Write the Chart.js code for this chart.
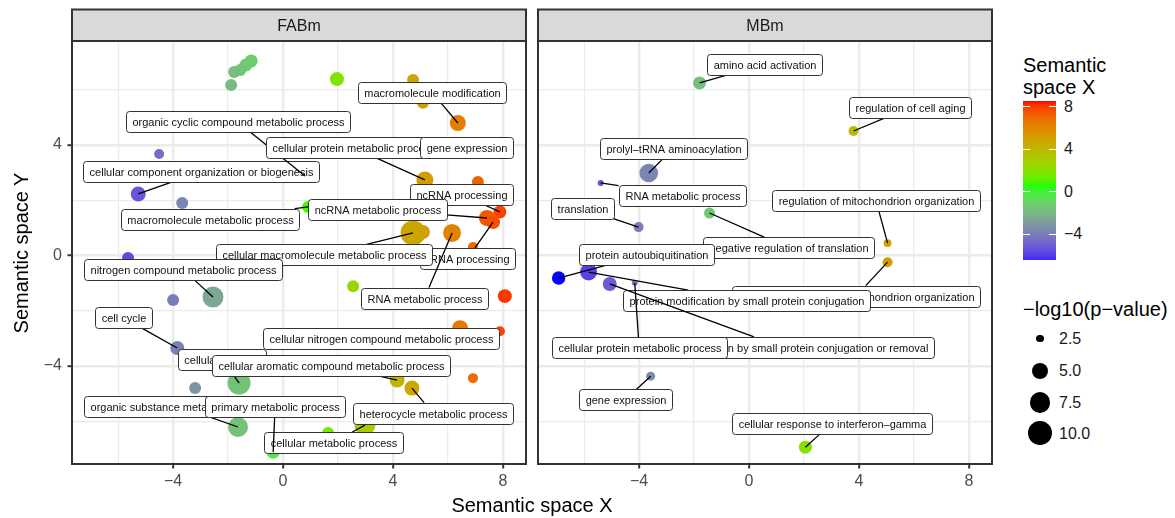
<!DOCTYPE html>
<html>
<head>
<meta charset="utf-8">
<script src="https://cdn.jsdelivr.net/npm/chart.js@4.4.1/dist/chart.umd.min.js"></script>
<style>
  html, body { margin: 0; padding: 0; background: #fff; }
  body { width: 1175px; height: 518px; position: relative; overflow: hidden;
         font-family: "Liberation Sans", Arial, Helvetica, sans-serif; color: #1a1a1a; }
  canvas { position: absolute; top: 0; }
  #cvA { left: 0; }
  #cvB { left: 532px; }
  .axis-title { position: absolute; font-size: 20px; line-height: 24px; height: 24px;
                white-space: nowrap; text-align: center; color: #000; }
  .leg-title { position: absolute; left: 1023px; font-size: 20px; line-height: 22px; color: #000; white-space: nowrap; }
  .leg-text { position: absolute; font-size: 16px; line-height: 16px; color: #1a1a1a; white-space: nowrap; }
  #colourBar { position: absolute; left: 1023px; top: 101px; width: 33px; height: 159px; }
  .bar-tick { position: absolute; height: 1px; width: 7px; background: #fff; }
  .size-key { position: absolute; background: #000; border-radius: 50%; }
</style>
</head>
<body>
<canvas id="cvA" width="532" height="518"></canvas>
<canvas id="cvB" width="468" height="518"></canvas>

<div class="axis-title" style="left:282px; top:492.8px; width:500px;">Semantic space X</div>
<div class="axis-title" style="left:-128.6px; top:240.5px; width:300px; transform:rotate(-90deg);">Semantic space Y</div>

<div class="leg-title" style="top:53.8px;">Semantic<br>space X</div>
<div id="colourBar"></div>
<div class="leg-title" style="top:297.8px;">&minus;log10(p&minus;value)</div>
<div id="legendItems"></div>

<script>
// ---------------- FABm ----------------
const fabmTerm = [
  '', '', '', '', '', '', '', '', '', '', '', '', '', '', '', '', '', '', '', '', '', '',
  'macromolecule modification',
  'cellular component organization or biogenesis',
  'organic cyclic compound metabolic process',
  'cellular protein metabolic process',
  'gene expression',
  'ncRNA processing',
  'ncRNA metabolic process',
  'macromolecule metabolic process',
  'rRNA processing',
  'cellular macromolecule metabolic process',
  'nitrogen compound metabolic process',
  'RNA metabolic process',
  'cell cycle',
  'cellular process',
  'cellular nitrogen compound metabolic process',
  'cellular aromatic compound metabolic process',
  'organic substance metabolic process',
  'cellular metabolic process',
  'primary metabolic process',
  'heterocycle metabolic process'
];
const fabmX = [
  -1.16, -1.35, -1.56, -1.78, -1.89, 1.96, 4.73, 5.09, -4.51, -3.67, 7.09, 5.09, 6.91,
  -5.64, -4.84, -4.00, 2.55, 8.07, 7.89, -3.20, 6.91, 1.64,
  6.36, -5.27, 0.80, 5.16, 6.65, 7.89, 7.42, 0.91, 7.64, 4.73, -2.55, 6.15,
  -3.85, -1.60, 6.44, 4.15, -1.64, 2.98, -0.36, 4.69
];
const fabmY = [
  7.05, 6.90, 6.72, 6.65, 6.18, 6.39, 6.36, 5.53, 3.68, 1.90, 2.66, 0.85, 0.31,
  -0.09, -0.71, -1.61, -1.11, -1.47, -2.74, -4.80, -4.44, -6.43,
  4.80, 2.23, 2.88, 2.74, 3.90, 1.58, 1.36, 1.76, 1.21, 0.82, -1.50, 0.82,
  -3.35, -4.62, -2.63, -4.51, -6.21, -6.14, -7.12, -4.80
];
const fabmLogP = [
  3.61, 3.61, 3.30, 3.30, 3.30, 3.96, 3.30, 3.30, 2.83, 3.30, 3.30, 3.96, 2.83,
  3.30, 2.83, 3.30, 3.30, 3.96, 2.83, 3.30, 2.83, 3.30,
  4.82, 4.37, 3.30, 5.31, 2.83, 3.61, 4.82, 3.30, 3.96, 10.99, 7.78, 5.86,
  3.96, 9.29, 4.82, 4.37, 7.09, 7.78, 3.61, 4.37
];
// label anchor centres (data units), null for unlabelled terms
const fabmLabelX = [
  null, null, null, null, null, null, null, null, null, null, null, null, null,
  null, null, null, null, null, null, null, null, null,
  5.42, -2.98, -1.65, 2.56, 6.67, 6.49, 3.42, -2.67, 6.71, 1.51, -3.64, 5.15,
  -5.82, -2.20, 3.56, 1.75, -3.73, 1.82, -0.29, 5.45
];
const fabmLabelY = [
  null, null, null, null, null, null, null, null, null, null, null, null, null,
  null, null, null, null, null, null, null, null, null,
  5.91, 3.04, 4.84, 3.91, 3.91, 2.21, 1.67, 1.32, -0.11, 0.02, -0.51, -1.54,
  -2.25, -3.75, -2.99, -4.00, -5.47, -6.78, -5.47, -5.71
];

// ---------------- MBm ----------------
const mbmTerm = [
  'amino acid activation',
  'regulation of cell aging',
  'prolyl\u2013tRNA aminoacylation',
  'RNA metabolic process',
  'translation',
  'regulation of mitochondrion organization',
  'negative regulation of translation',
  'protein autoubiquitination',
  'positive regulation of mitochondrion organization',
  'protein modification by small protein conjugation',
  'protein modification by small protein conjugation or removal',
  'cellular protein metabolic process',
  'gene expression',
  'cellular response to interferon\u2013gamma'
];
const mbmX = [-1.80, 3.80, -3.65, -5.40, -4.02, 5.04, -1.44, -6.93, 5.04, -5.84, -5.07, -4.16, -3.58, 2.05];
const mbmY = [6.25, 4.51, 2.99, 2.63, 1.03, 0.45, 1.54, -0.815, -0.24, -0.60, -1.03, -0.99, -4.37, -6.94];
const mbmLogP = [3.61, 2.83, 6.21, 2.45, 2.83, 2.54, 3.04, 3.75, 2.83, 5.31, 3.96, 2.45, 2.66, 3.61];
const mbmLabelX = [0.55, 5.84, -2.75, -2.44, -6.07, 4.62, 1.42, -3.73, 3.89, -0.09, 1.22, -4.00, -4.51, 3.02];
const mbmLabelY = [6.92, 5.36, 3.89, 2.17, 1.72, 1.99, 0.29, 0.04, -1.47, -1.63, -3.33, -3.33, -5.22, -6.07];

// axis breaks and limits
const xLimits = [-7.68, 8.84];
const yLimits = [-7.55, 7.77];
const gridBreaks = [-6, -4, -2, 0, 2, 4, 6, 8];
const gridBreaksY = [-6, -4, -2, 0, 2, 4, 6];
const colourBreaks = [8, 4, 0, -4];
const sizeBreaks = [2.5, 5.0, 7.5, 10.0];

// colour scale: blue -> green -> red, interpolated in CIE Lab
const colourStops = [-6.95, 0.5, 8.55];
const colourHex = ['#0000FF', '#00FF00', '#FF0000'];

const FONT = '"Liberation Sans", Arial, Helvetica, sans-serif';
const minus = v => (v < 0 ? '\u2212' + Math.abs(v) : String(v));

function toLin(c) { c /= 255; return c <= 0.04045 ? c / 12.92 : Math.pow((c + 0.055) / 1.055, 2.4); }
function toGam(c) {
  c = c <= 0.0031308 ? 12.92 * c : 1.055 * Math.pow(Math.max(c, 0), 1 / 2.4) - 0.055;
  return Math.round(Math.min(1, Math.max(0, c)) * 255);
}
function hexToLab(h) {
  const r = toLin(parseInt(h.slice(1, 3), 16)), g = toLin(parseInt(h.slice(3, 5), 16)), b = toLin(parseInt(h.slice(5, 7), 16));
  const X = (0.4124564 * r + 0.3575761 * g + 0.1804375 * b) / 0.95047;
  const Y = 0.2126729 * r + 0.7151522 * g + 0.0721750 * b;
  const Z = (0.0193339 * r + 0.1191920 * g + 0.9503041 * b) / 1.08883;
  const f = t => (t > 216 / 24389 ? Math.cbrt(t) : (24389 / 27 * t + 16) / 116);
  const fx = f(X), fy = f(Y), fz = f(Z);
  return [116 * fy - 16, 500 * (fx - fy), 200 * (fy - fz)];
}
function labToRgb(L, a, b) {
  const fy = (L + 16) / 116, fx = fy + a / 500, fz = fy - b / 200;
  const inv = t => { const t3 = t * t * t; return t3 > 216 / 24389 ? t3 : (116 * t - 16) / (24389 / 27); };
  const X = inv(fx) * 0.95047, Y = inv(fy), Z = inv(fz) * 1.08883;
  const r = 3.2404542 * X - 1.5371385 * Y - 0.4985314 * Z;
  const g = -0.9692660 * X + 1.8760108 * Y + 0.0415560 * Z;
  const bb = 0.0556434 * X - 0.2040259 * Y + 1.0572252 * Z;
  return `rgb(${toGam(r)},${toGam(g)},${toGam(bb)})`;
}
const stopLab = colourHex.map(hexToLab);
function colourFor(v) {
  v = Math.min(colourStops[2], Math.max(colourStops[0], v));
  const k = v <= colourStops[1] ? 0 : 1;
  const t = (v - colourStops[k]) / (colourStops[k + 1] - colourStops[k]);
  const A = stopLab[k], B = stopLab[k + 1];
  return labToRgb(A[0] + (B[0] - A[0]) * t, A[1] + (B[1] - A[1]) * t, A[2] + (B[2] - A[2]) * t);
}
// point radius (px) from -log10(p)
const sizeOf = v => 3.0 + 3.25 * Math.sqrt(Math.max(v - 2.45, 0));

// labels with leader segments, drawn in data order
function labelPlugin(p) {
  return {
    id: 'repelLabels',
    afterDatasetsDraw(chart) {
      const { ctx, scales: { x, y } } = chart;
      ctx.save();
      ctx.font = '11px ' + FONT;
      p.term.forEach((t, i) => {
        if (!t || p.lx[i] === null) return;
        const px = x.getPixelForValue(p.x[i]), py = y.getPixelForValue(p.y[i]);
        const cx = x.getPixelForValue(p.lx[i]), cy = y.getPixelForValue(p.ly[i]);
        const w = ctx.measureText(t).width + 12, h = 21;
        const dx = px - cx, dy = py - cy;
        let te = Infinity;
        if (dx !== 0) te = Math.min(te, (w / 2) / Math.abs(dx));
        if (dy !== 0) te = Math.min(te, (h / 2) / Math.abs(dy));
        if (te < 1) {
          const sx = cx + dx * te, sy = cy + dy * te;
          if (Math.hypot(px - sx, py - sy) > 5) {
            ctx.beginPath();
            ctx.moveTo(sx, sy);
            ctx.lineTo(px, py);
            ctx.strokeStyle = '#000';
            ctx.lineWidth = 1.3;
            ctx.stroke();
          }
        }
        const l = Math.round(cx - w / 2) + 0.5, tp = Math.round(cy - h / 2) + 0.5;
        ctx.beginPath();
        ctx.roundRect(l, tp, Math.round(w), h, 3);
        ctx.fillStyle = '#fff';
        ctx.fill();
        ctx.strokeStyle = '#333';
        ctx.lineWidth = 1;
        ctx.stroke();
        ctx.fillStyle = '#111';
        ctx.textAlign = 'center';
        ctx.textBaseline = 'alphabetic';
        ctx.fillText(t, l + Math.round(w) / 2, tp + h / 2 + 3.8);
      });
      ctx.restore();
    }
  };
}

// facet strip and panel border
function framePlugin(title) {
  return {
    id: 'facetFrame',
    afterDraw(chart) {
      const { ctx, chartArea: a } = chart;
      ctx.save();
      ctx.lineWidth = 2;
      ctx.strokeStyle = '#333';
      ctx.fillStyle = '#d9d9d9';
      ctx.fillRect(a.left, 9.5, a.right - a.left, a.top - 9.5);
      ctx.strokeRect(a.left, 9.5, a.right - a.left, a.top - 9.5);
      ctx.strokeRect(a.left, a.top, a.right - a.left, a.bottom - a.top);
      ctx.fillStyle = '#1a1a1a';
      ctx.font = '16px ' + FONT;
      ctx.textAlign = 'center';
      ctx.textBaseline = 'alphabetic';
      ctx.fillText(title, (a.left + a.right) / 2, 30.7);
      ctx.restore();
    }
  };
}

const isMajor = v => v % 4 === 0;
const gridStyle = (showTicks) => ({
  color: '#ebebeb',
  lineWidth: c => (c.tick && isMajor(c.tick.value) ? 2.4 : 1.2),
  drawTicks: showTicks,
  tickLength: 4.5,
  tickWidth: 2,
  tickColor: c => (c.tick && isMajor(c.tick.value) ? '#333' : 'rgba(0,0,0,0)')
});

function makePanel(canvasId, title, p, showY, padLeft, padRight) {
  const data = p.x.map((v, i) => ({ x: v, y: p.y[i], r: sizeOf(p.v[i]) }));
  new Chart(document.getElementById(canvasId), {
    type: 'bubble',
    data: {
      datasets: [{
        data,
        backgroundColor: p.x.map(colourFor),
        borderWidth: 0,
        hoverRadius: 0,
        hoverBorderWidth: 0
      }]
    },
    options: {
      responsive: false,
      devicePixelRatio: 1,
      animation: false,
      events: [],
      layout: { autoPadding: false, padding: { top: 41, left: padLeft, right: padRight, bottom: 0 } },
      plugins: { legend: { display: false }, tooltip: { enabled: false } },
      scales: {
        x: {
          type: 'linear', position: 'bottom',
          min: xLimits[0], max: xLimits[1],
          afterBuildTicks: s => { s.ticks = gridBreaks.map(v => ({ value: v })); },
          afterFit: s => { s.height = 54; s.paddingLeft = 0; s.paddingRight = 0; },
          border: { display: false },
          grid: gridStyle(true),
          ticks: {
            font: { family: FONT, size: 16 }, color: '#4d4d4d', padding: 3,
            maxRotation: 0, autoSkip: false,
            callback: v => (isMajor(v) ? minus(v) : '')
          }
        },
        y: {
          type: 'linear', position: 'left',
          min: yLimits[0], max: yLimits[1],
          afterBuildTicks: s => { s.ticks = gridBreaksY.map(v => ({ value: v })); },
          afterFit: s => { s.width = showY ? 72 : 0; s.paddingTop = 0; s.paddingBottom = 0; },
          border: { display: false },
          grid: gridStyle(showY),
          ticks: {
            display: showY,
            font: { family: FONT, size: 16 }, color: '#4d4d4d', padding: 5.5,
            autoSkip: false,
            callback: v => (isMajor(v) ? minus(v) : '')
          }
        }
      }
    },
    plugins: [labelPlugin(p), framePlugin(title)]
  });
}

makePanel('cvA', 'FABm',
  { term: fabmTerm, x: fabmX, y: fabmY, v: fabmLogP, lx: fabmLabelX, ly: fabmLabelY }, true, 0, 6);
makePanel('cvB', 'MBm',
  { term: mbmTerm, x: mbmX, y: mbmY, v: mbmLogP, lx: mbmLabelX, ly: mbmLabelY }, false, 6, 8);

// ---- colour bar legend ----
(function () {
  const barTop = 101, barH = 159, pxPerUnit = 10.63, topVal = 8 + (106.7 - barTop) / pxPerUnit;
  const bar = document.getElementById('colourBar');
  const stops = [];
  for (let i = 0; i <= 40; i++) {
    const v = topVal - (i / 40) * barH / pxPerUnit;
    stops.push(colourFor(v) + ' ' + (i * 2.5).toFixed(1) + '%');
  }
  bar.style.background = 'linear-gradient(to bottom,' + stops.join(',') + ')';
  const box = document.getElementById('legendItems');
  colourBreaks.forEach(v => {
    const yy = barTop + (topVal - v) * pxPerUnit;
    ['1023px', '1049px'].forEach(left => {
      const t = document.createElement('div');
      t.className = 'bar-tick';
      t.style.left = left;
      t.style.top = (yy - 0.5) + 'px';
      box.appendChild(t);
    });
    const lab = document.createElement('div');
    lab.className = 'leg-text';
    lab.style.left = '1064px';
    lab.style.top = (yy - 7.8) + 'px';
    lab.textContent = minus(v);
    box.appendChild(lab);
  });
  // size legend
  const keyY = [338.3, 370.7, 402.7, 433.3];
  sizeBreaks.forEach((v, i) => {
    const r = sizeOf(v);
    const c = document.createElement('div');
    c.className = 'size-key';
    c.style.left = (1040 - r) + 'px';
    c.style.top = (keyY[i] - r) + 'px';
    c.style.width = c.style.height = (2 * r) + 'px';
    box.appendChild(c);
    const lab = document.createElement('div');
    lab.className = 'leg-text';
    lab.style.left = '1059px';
    lab.style.top = (keyY[i] - 7.8) + 'px';
    lab.textContent = v.toFixed(1);
    box.appendChild(lab);
  });
})();
</script>
</body>
</html>
